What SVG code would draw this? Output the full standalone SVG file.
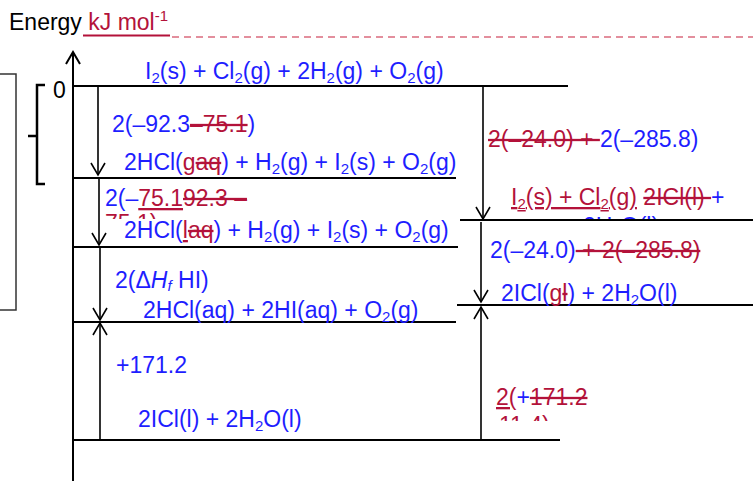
<svg xmlns="http://www.w3.org/2000/svg" width="753" height="481" viewBox="0 0 753 481">
<style>
text{font-family:"Liberation Sans",Arial,sans-serif;font-size:23px}
.b{fill:#1e1eff}.r{fill:#b3123a}.k{fill:#000}
.u{text-decoration:underline}.s{text-decoration:line-through}
.lv{stroke:#000;stroke-width:2;fill:none}
.ar{stroke:#000;stroke-width:1.6;fill:none}
</style>
<defs>
<clipPath id="c1"><rect x="100" y="213" width="80" height="6"/></clipPath>
<clipPath id="c2"><rect x="575" y="214" width="100" height="5"/></clipPath>
<clipPath id="c3"><rect x="490" y="415" width="60" height="6"/></clipPath>
</defs>
<rect width="753" height="481" fill="#fff"/>
<g id="title">
<text x="9" y="30" class="k">Energy <tspan class="r">kJ mol</tspan><tspan class="r" font-size="15" dy="-9">-1</tspan></text>
<line x1="83" y1="35.5" x2="170" y2="35.5" stroke="#b3123a" stroke-width="2"/>
<line x1="172" y1="37" x2="753" y2="37" stroke="#c8203c" stroke-width="1.2" stroke-dasharray="7 5"/>
</g>
<g id="axis">
<line x1="73" y1="52" x2="73" y2="481" class="lv"/>
<polyline points="66,64 73,52 80,64" class="lv"/>
<text x="53" y="98" class="k" font-size="18">0</text>
<path d="M45,85 H37 V184 H45 M37,136 H28" stroke="#000" stroke-width="2.5" fill="none"/>
<rect x="-2" y="74" width="18" height="236" fill="none" stroke="#333" stroke-width="1.5"/>
</g>
<g id="level0">
<line x1="73" y1="86" x2="568" y2="86" class="lv"/>
<text x="145" y="79" class="b">I<tspan font-size="15" dy="4">2</tspan><tspan dy="-4">(s) + Cl</tspan><tspan font-size="15" dy="4">2</tspan><tspan dy="-4">(g) + 2H</tspan><tspan font-size="15" dy="4">2</tspan><tspan dy="-4">(g) + O</tspan><tspan font-size="15" dy="4">2</tspan><tspan dy="-4">(g)</tspan></text>
</g>
<g id="level1">
<line x1="73" y1="178" x2="456" y2="178" class="lv"/>
<text x="124" y="170" class="b">2HCl(<tspan class="r u">g</tspan><tspan class="r s">aq</tspan>) + H<tspan font-size="15" dy="4">2</tspan><tspan dy="-4">(g) + I</tspan><tspan font-size="15" dy="4">2</tspan><tspan dy="-4">(s) + O</tspan><tspan font-size="15" dy="4">2</tspan><tspan dy="-4">(g)</tspan></text>
</g>
<g id="level2">
<line x1="73" y1="247" x2="458" y2="247" class="lv"/>
<text x="124" y="238" class="b">2HCl(<tspan class="r u">l</tspan><tspan class="r s">aq</tspan>) + H<tspan font-size="15" dy="4">2</tspan><tspan dy="-4">(g) + I</tspan><tspan font-size="15" dy="4">2</tspan><tspan dy="-4">(s) + O</tspan><tspan font-size="15" dy="4">2</tspan><tspan dy="-4">(g)</tspan></text>
</g>
<g id="level3">
<line x1="73" y1="322" x2="456" y2="322" class="lv"/>
<text x="143" y="318" class="b">2HCl(aq) + 2HI(aq) + O<tspan font-size="15" dy="4">2</tspan><tspan dy="-4">(g)</tspan></text>
</g>
<g id="level4">
<line x1="73" y1="440" x2="560" y2="440" class="lv"/>
<text x="138" y="427" class="b">2ICl(l) + 2H<tspan font-size="15" dy="4">2</tspan><tspan dy="-4">O(l)</tspan></text>
</g>
<g id="levelR1">
<line x1="460" y1="220" x2="753" y2="220" class="lv"/>
<text x="511" y="205"><tspan class="r u">I<tspan font-size="15" dy="4">2</tspan><tspan dy="-4">(s) + Cl</tspan><tspan font-size="15" dy="4">2</tspan><tspan dy="-4">(g)</tspan></tspan><tspan class="r"> </tspan><tspan class="r s">2ICl(l) </tspan><tspan class="b">+</tspan></text>
<text x="583" y="234" class="b" clip-path="url(#c2)">2H<tspan font-size="15" dy="4">2</tspan><tspan dy="-4">O(l)</tspan></text>
</g>
<g id="levelR2">
<line x1="457" y1="305" x2="753" y2="305" class="lv"/>
<text x="501" y="301" class="b">2ICl(<tspan class="r u">g</tspan><tspan class="r s">l</tspan>) + 2H<tspan font-size="15" dy="4">2</tspan><tspan dy="-4">O(l)</tspan></text>
</g>
<g id="connectors">
<line x1="98" y1="86" x2="98" y2="175" class="ar"/>
<polyline points="91,163 98,175 105,163" class="ar"/>
<line x1="99" y1="178" x2="99" y2="245" class="ar"/>
<polyline points="92,233 99,245 106,233" class="ar"/>
<line x1="100" y1="248" x2="100" y2="320" class="ar"/>
<polyline points="93,308 100,320 107,308" class="ar"/>
<line x1="100" y1="440" x2="100" y2="323" class="ar"/>
<polyline points="93,335 100,323 107,335" class="ar"/>
<line x1="483" y1="86" x2="483" y2="219" class="ar"/>
<polyline points="476,207 483,219 490,207" class="ar"/>
<line x1="481" y1="222" x2="481" y2="302" class="ar"/>
<polyline points="474,290 481,302 488,290" class="ar"/>
<line x1="481" y1="440" x2="481" y2="307" class="ar"/>
<polyline points="474,319 481,307 488,319" class="ar"/>
</g>
<g id="labels">
<text x="112" y="132" class="b">2(–92.3<tspan class="r s">–75.1</tspan>)</text>
<text x="105" y="206" class="b">2(–<tspan class="r u">75.1</tspan><tspan class="r s">92.3 –</tspan></text>
<text x="105" y="231" class="r" clip-path="url(#c1)">75.1)</text>
<text x="115" y="288" class="b">2(Δ<tspan font-style="italic">H</tspan><tspan font-style="italic" font-size="15" dy="3">f</tspan><tspan dy="-3"> HI)</tspan></text>
<text x="116" y="373" class="b">+171.2</text>
<text x="488" y="147"><tspan class="r s">2(–24.0) + </tspan><tspan class="b">2(–285.8)</tspan></text>
<text x="490" y="258"><tspan class="b">2(–24.0)</tspan><tspan class="r s"> + 2(–285.8)</tspan></text>
<text x="496" y="405"><tspan class="r u">2(</tspan><tspan class="b">+</tspan><tspan class="r s">171.2</tspan></text>
<text x="499" y="433" class="r" clip-path="url(#c3)">11.4)</text>
</g>
</svg>
